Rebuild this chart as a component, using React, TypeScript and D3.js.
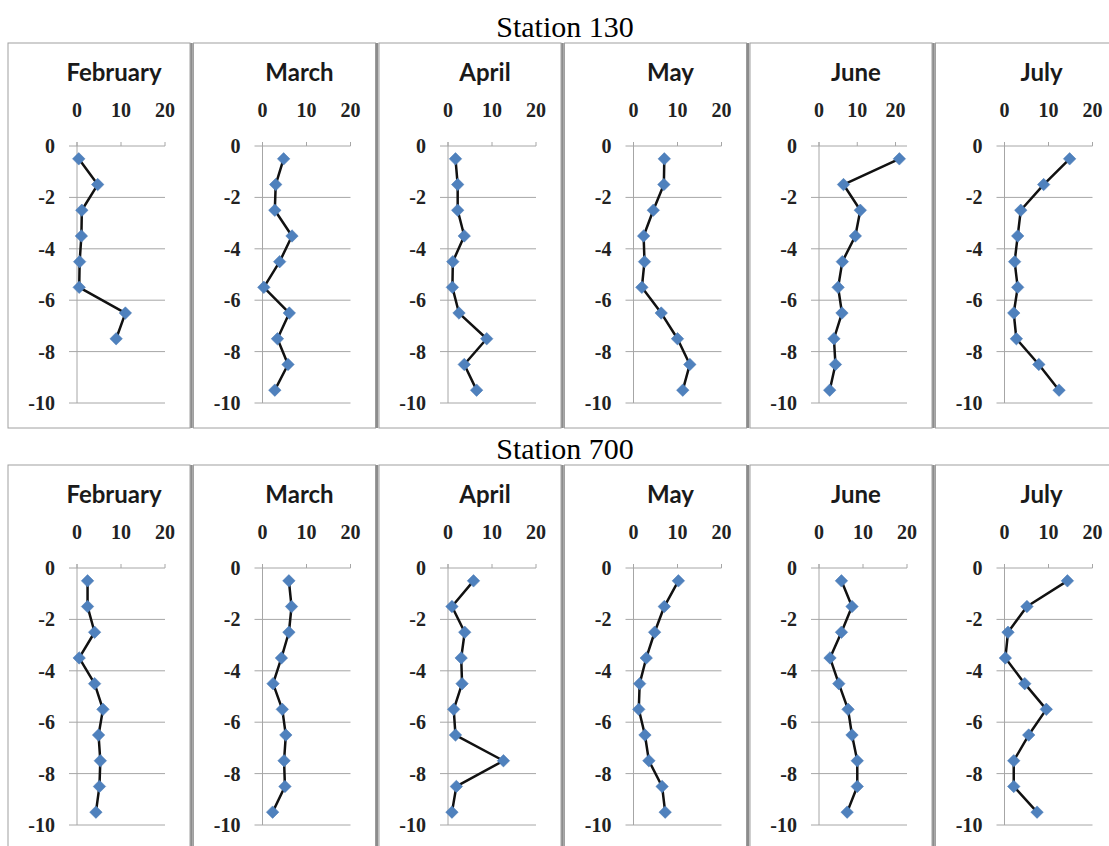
import React from 'react';
import * as d3 from 'd3';

const months = ['February', 'March', 'April', 'May', 'June', 'July'];
const stations = ['Station 130', 'Station 700'];
const depths = [-0.5, -1.5, -2.5, -3.5, -4.5, -5.5, -6.5, -7.5, -8.5, -9.5];
const xTicks = [0, 10, 20];
const yTicks = [0, -2, -4, -6, -8, -10];

// Station 130
const s130Feb = [0.4, 4.7, 1.1, 1.0, 0.6, 0.5, 11.0, 8.9];
const s130Mar = [4.8, 3.0, 2.8, 6.7, 3.9, 0.3, 6.1, 3.4, 5.8, 2.8];
const s130Apr = [1.7, 2.2, 2.2, 3.7, 1.1, 1.0, 2.5, 8.8, 3.7, 6.5];
const s130May = [7.0, 6.9, 4.5, 2.3, 2.5, 1.9, 6.3, 10.0, 12.8, 11.2];
const s130Jun = [21.0, 6.4, 10.8, 9.5, 6.1, 5.0, 6.0, 3.9, 4.3, 2.8];
const s130Jul = [14.8, 8.9, 3.7, 3.0, 2.3, 3.0, 2.1, 2.7, 7.8, 12.4];
const s130Max = [20, 20, 20, 20, 23, 20];

// Station 700
const s700Feb = [2.4, 2.4, 4.0, 0.5, 4.0, 5.9, 4.9, 5.3, 5.1, 4.3];
const s700Mar = [6.0, 6.6, 6.0, 4.3, 2.4, 4.5, 5.3, 4.9, 5.1, 2.3];
const s700Apr = [5.8, 0.9, 3.8, 3.0, 3.2, 1.3, 1.7, 12.6, 1.9, 0.9];
const s700May = [10.2, 7.0, 4.8, 2.9, 1.4, 1.2, 2.6, 3.5, 6.5, 7.2];
const s700Jun = [5.1, 7.5, 5.1, 2.5, 4.5, 6.6, 7.5, 8.7, 8.7, 6.4];
const s700Jul = [14.3, 5.1, 0.8, 0.2, 4.6, 9.5, 5.5, 2.1, 2.1, 7.4];
const s700Max = [20, 20, 20, 20, 20, 20];

const s130 = [s130Feb, s130Mar, s130Apr, s130May, s130Jun, s130Jul];
const s700 = [s700Feb, s700Mar, s700Apr, s700May, s700Jun, s700Jul];

const W = 1109;
const H = 846;
const PANEL_STEP = 185.5;
const PANEL_W = 182;
const PANEL_H = 385;
const ROW_TOP = [43, 465];
const ROW_TITLE_Y = [37, 459];

const diamond = d3.symbol().type(d3.symbolSquare).size(78)() as string;

function Panel({ x0, y0, title, values, xMax }: { x0: number; y0: number; title: string; values: number[]; xMax: number }) {
  const x = d3.scaleLinear().domain([0, xMax]).range([x0 + 69, x0 + 157]);
  const y = d3.scaleLinear().domain([0, -10]).range([y0 + 103, y0 + 360]);
  const pts = values.map((v, i) => [v, depths[i]] as [number, number]);
  const line = d3.line<[number, number]>().x(d => x(d[0])).y(d => y(d[1]));
  const gridColor = '#a6a6a6';
  const tickFont = "'Liberation Serif', 'Times New Roman', serif";
  return (
    <g>
      <rect x={x0} y={y0} width={PANEL_W} height={PANEL_H} fill="#fff" stroke="#a0a0a0" strokeWidth={1} />
      <text x={x0 + 106} y={y0 + 38} textAnchor="middle" fontFamily="Lato, 'Open Sans', sans-serif" fontWeight="bold" fontSize={24} fill="#1a1a1a">{title}</text>
      {xTicks.map(t => (
        <text key={'xt' + t} x={x(t)} y={y0 + 74} textAnchor="middle" fontFamily={tickFont} fontWeight="bold" fontSize={20} fill="#222">{t}</text>
      ))}
      {yTicks.map(t => (
        <g key={'yt' + t}>
          <line x1={x0 + 61} x2={x(xMax)} y1={y(t)} y2={y(t)} stroke={gridColor} strokeWidth={1} />
          <text x={x0 + 47} y={y(t) + 7} textAnchor="end" fontFamily={tickFont} fontWeight="bold" fontSize={20} fill="#222">{t}</text>
        </g>
      ))}
      {xTicks.map(t => (
        <line key={'xtk' + t} x1={x(t)} x2={x(t)} y1={y(0) - 4} y2={y(0)} stroke={gridColor} strokeWidth={1} />
      ))}
      <line x1={x(0)} x2={x(0)} y1={y(0) - 4} y2={y(-10)} stroke={gridColor} strokeWidth={1} />
      <path d={line(pts) as string} fill="none" stroke="#111" strokeWidth={2.5} strokeLinejoin="round" />
      {pts.map((p, i) => (
        <path key={'m' + i} d={diamond} transform={`translate(${x(p[0])},${y(p[1])}) rotate(45)`} fill="#4f81bd" stroke="#4a7ab5" strokeWidth={0.5} />
      ))}
    </g>
  );
}

export default function App() {
  const rows = [
    { values: s130, maxes: s130Max },
    { values: s700, maxes: s700Max },
  ];
  return (
    <svg width={W} height={H} style={{ position: 'absolute', left: 0, top: 0, background: '#fff' }}>
      <rect x={0} y={0} width={W} height={H} fill="#fff" />
      {rows.map((row, r) => (
        <g key={'row' + r}>
          <text x={565} y={ROW_TITLE_Y[r]} textAnchor="middle" fontFamily="'Liberation Serif', 'Times New Roman', serif" fontSize={30} fill="#000">{stations[r]}</text>
          {months.map((m, i) => {
            const x0 = 8 + i * PANEL_STEP;
            return (
              <g key={m}>
                <Panel x0={x0} y0={ROW_TOP[r]} title={m} values={row.values[i]} xMax={row.maxes[i]} />
                {i > 0 && (
                  <line x1={x0 - 2} x2={x0 - 2} y1={ROW_TOP[r]} y2={ROW_TOP[r] + PANEL_H} stroke="#8c8c8c" strokeWidth={2.5} />
                )}
              </g>
            );
          })}
        </g>
      ))}
    </svg>
  );
}
